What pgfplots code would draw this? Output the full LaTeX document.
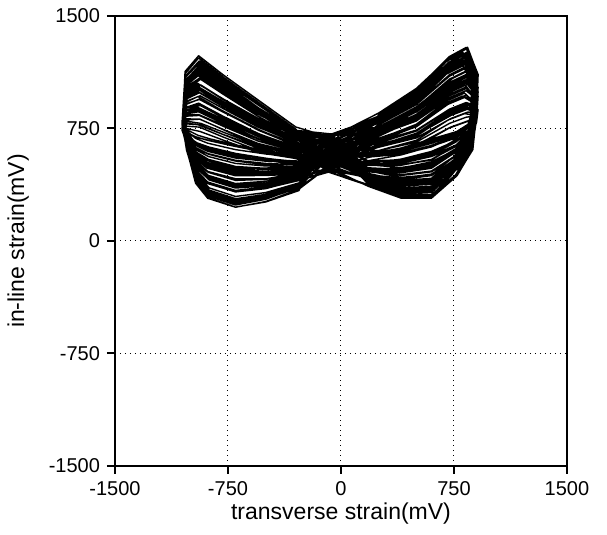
\documentclass[border=0pt]{standalone}
\usepackage{fontspec}
\setmainfont{Liberation Sans}
\usepackage{pgfplots}
\pgfplotsset{compat=1.18}
\begin{document}
\begin{tikzpicture}
\begin{axis}[
  scale only axis, width=226pt, height=225pt,
  at={(0,0)}, anchor=south west,
  xmin=-1500, xmax=1500, ymin=-1500, ymax=1500,
  xtick={-1500,-750,0,750,1500}, ytick={-1500,-750,0,750,1500},
  tick pos=left, tick align=outside, major tick length=4pt,
  axis line style={line width=1.2pt},
  every tick/.style={black, line width=1pt},
  grid=major, major grid style={black, line width=0.5pt, dotted},
  scaled ticks=false,
  /pgf/number format/assume math mode=true,
  /pgf/number format/set thousands separator={},
  ticklabel style={font=\fontsize{10}{12}\selectfont},
  xlabel={transverse strain(mV)}, ylabel={in-line strain(mV)},
  label style={font=\fontsize{11.5}{13}\selectfont},
  xlabel style={at={(axis description cs:0.5,-0.1178)}, anchor=base},
  ylabel style={at={(axis description cs:-0.2013,0.5)}, anchor=base},
]
\addplot[black, line width=0.7pt, line join=round, mark=none] coordinates {
(-60,470) (250,840) (500,1010) (720,1230) (830,1290) (890,1120) (880,850) (855,600) (760,440) (600,290) (400,290) (180,370) (-60,470) (-300,741) (-550,914) (-780,1079) (-940,1201) (-1030,1102) (-1045,797) (-1020,625) (-960,406) (-880,310) (-700,251) (-500,285) (-280,361)
(-100,700) (250,825) (500,983) (730,1193) (840,1251) (900,1100) (890,855) (865,628) (770,479) (600,339) (400,333) (180,401) (-100,700) (-300,760) (-550,940) (-785,1110) (-945,1235) (-1035,1130) (-1050,810) (-1025,630) (-965,400) (-885,300) (-700,240) (-500,278) (-280,360)
(-30,520) (250,780) (500,926) (710,1126) (820,1182) (880,1050) (870,830) (845,626) (750,488) (600,358) (400,346) (180,401) (-30,520) (-300,712) (-550,871) (-775,1027) (-935,1142) (-1025,1056) (-1040,781) (-1015,625) (-955,427) (-875,339) (-700,282) (-500,308) (-280,372)
(-120,690) (250,828) (500,992) (740,1207) (850,1266) (910,1105) (900,848) (875,609) (780,455) (600,310) (400,307) (180,380) (-120,690) (-300,703) (-550,848) (-790,995) (-950,1104) (-1040,1030) (-1055,785) (-1030,645) (-970,468) (-890,388) (-700,333) (-500,351) (-280,403)
(-80,460) (250,775) (500,909) (720,1099) (830,1153) (890,1040) (880,845) (855,664) (760,537) (600,417) (400,399) (180,442) (-80,460) (-300,741) (-550,907) (-780,1068) (-940,1187) (-1030,1094) (-1045,804) (-1020,640) (-960,431) (-880,339) (-700,281) (-500,311) (-280,381)
(-50,650) (250,788) (500,940) (700,1145) (810,1202) (870,1060) (860,828) (835,612) (740,469) (600,334) (400,325) (180,386) (-50,650) (-300,669) (-550,800) (-770,938) (-930,1040) (-1020,979) (-1035,764) (-1010,640) (-950,484) (-870,412) (-700,359) (-500,369) (-280,409)
(-130,600) (250,755) (500,877) (730,1057) (840,1109) (900,1015) (890,845) (865,687) (770,571) (600,461) (400,437) (180,467) (-130,600) (-300,727) (-550,879) (-785,1031) (-945,1143) (-1035,1063) (-1050,803) (-1025,655) (-965,467) (-885,383) (-700,327) (-500,349) (-280,407)
(-20,480) (250,773) (500,913) (720,1108) (830,1163) (890,1040) (880,833) (855,640) (760,508) (600,383) (400,368) (180,416) (-20,480) (-300,736) (-550,909) (-780,1074) (-940,1196) (-1030,1097) (-1045,792) (-1020,620) (-960,401) (-880,305) (-700,246) (-500,280) (-280,356)
(-90,710) (250,715) (500,825) (710,995) (820,1045) (880,970) (870,825) (845,690) (750,585) (600,485) (400,455) (180,473) (-90,710) (-300,693) (-550,831) (-775,974) (-935,1080) (-1025,1012) (-1040,782) (-1015,650) (-955,483) (-875,407) (-700,353) (-500,368) (-280,413)
(-60,500) (250,835) (500,993) (740,1203) (850,1261) (910,1110) (900,865) (875,638) (780,489) (600,349) (400,343) (180,411) (-60,500) (-300,685) (-550,802) (-790,931) (-950,1027) (-1040,978) (-1055,793) (-1030,685) (-970,550) (-890,486) (-700,435) (-500,437) (-280,465)
(-110,540) (250,733) (500,861) (720,1046) (830,1099) (890,995) (880,813) (855,643) (760,522) (600,407) (400,386) (180,422) (-110,540) (-300,702) (-550,861) (-780,1017) (-940,1132) (-1030,1046) (-1045,771) (-1020,615) (-960,417) (-880,329) (-700,272) (-500,298) (-280,362)
(-40,670) (250,800) (500,946) (710,1146) (820,1202) (880,1070) (870,850) (845,646) (750,508) (600,378) (400,366) (180,421) (-40,670) (-300,684) (-550,808) (-775,942) (-935,1041) (-1025,986) (-1040,786) (-1015,670) (-955,524) (-875,456) (-700,404) (-500,411) (-280,444)
(-70,630) (250,728) (500,844) (730,1019) (840,1070) (900,985) (890,828) (865,681) (770,571) (600,466) (400,439) (180,462) (-70,630) (-300,703) (-550,848) (-785,995) (-945,1104) (-1035,1030) (-1050,785) (-1025,645) (-965,468) (-885,388) (-700,333) (-500,351) (-280,403)
(-100,465) (250,818) (500,982) (700,1197) (810,1256) (870,1095) (860,838) (835,599) (740,445) (600,300) (400,297) (180,370) (-100,465) (-300,721) (-550,887) (-770,1048) (-930,1167) (-1020,1074) (-1035,784) (-1010,620) (-950,411) (-870,319) (-700,261) (-500,291) (-280,361)
(-60,580) (250,708) (500,812) (720,977) (830,1026) (890,960) (880,828) (855,704) (760,605) (600,510) (400,477) (180,488) (-60,580) (-300,660) (-550,770) (-780,895) (-940,988) (-1030,945) (-1045,775) (-1020,675) (-960,550) (-880,490) (-700,440) (-500,439) (-280,460)
(-140,690) (250,760) (500,894) (740,1084) (850,1138) (910,1025) (900,830) (875,649) (780,522) (600,402) (400,384) (180,427) (-140,690) (-300,679) (-550,810) (-790,948) (-950,1050) (-1040,989) (-1055,774) (-1030,650) (-970,494) (-890,422) (-700,369) (-500,379) (-280,419)
(-10,510) (250,818) (500,970) (720,1175) (830,1232) (890,1090) (880,858) (855,642) (760,499) (600,364) (400,355) (180,416) (-10,510) (-300,727) (-550,879) (-780,1031) (-940,1143) (-1030,1063) (-1045,803) (-1020,655) (-960,467) (-880,383) (-700,327) (-500,349) (-280,407)
(-80,550) (250,680) (500,778) (710,938) (820,986) (880,930) (870,810) (845,698) (750,604) (600,514) (400,478) (180,483) (-80,550) (-300,636) (-550,739) (-775,859) (-935,948) (-1025,912) (-1040,757) (-1015,665) (-955,551) (-875,495) (-700,446) (-500,441) (-280,456)
(-120,705) (250,760) (500,882) (730,1062) (840,1114) (900,1020) (890,850) (865,692) (770,576) (600,466) (400,442) (180,472) (-120,705) (-300,685) (-550,802) (-785,931) (-945,1027) (-1035,978) (-1050,793) (-1025,685) (-965,550) (-885,486) (-700,435) (-500,437) (-280,465)
(-50,475) (250,835) (500,1005) (730,1225) (840,1285) (900,1115) (890,845) (865,595) (770,435) (600,285) (400,285) (180,365) (-50,475) (-300,745) (-550,925) (-785,1095) (-945,1220) (-1035,1115) (-1050,795) (-1025,615) (-965,385) (-885,285) (-700,225) (-500,263) (-280,345)
(-90,490) (250,778) (500,918) (700,1113) (810,1168) (870,1045) (860,838) (835,645) (740,513) (600,388) (400,373) (180,421) (-90,490) (-300,693) (-550,831) (-770,974) (-930,1080) (-1020,1012) (-1035,782) (-1010,650) (-950,483) (-870,407) (-700,353) (-500,368) (-280,413)
(-30,660) (250,725) (500,835) (720,1005) (830,1055) (890,980) (880,835) (855,700) (760,595) (600,495) (400,465) (180,483) (-30,660) (-300,646) (-550,742) (-780,858) (-940,944) (-1030,914) (-1045,774) (-1020,690) (-960,586) (-880,534) (-700,486) (-500,477) (-280,486)
(-110,560) (250,738) (500,866) (730,1051) (840,1104) (900,1000) (890,818) (865,648) (770,527) (600,412) (400,391) (180,427) (-110,560) (-300,659) (-550,783) (-785,917) (-945,1016) (-1035,961) (-1050,761) (-1025,645) (-965,499) (-885,431) (-700,379) (-500,386) (-280,419)
(-70,600) (250,678) (500,770) (720,925) (830,972) (890,925) (880,818) (855,717) (760,629) (600,544) (400,505) (180,503) (-70,600) (-300,627) (-550,716) (-780,827) (-940,910) (-1030,886) (-1045,761) (-1020,685) (-960,592) (-880,544) (-700,497) (-500,484) (-280,487)
(-60,700) (250,815) (500,961) (710,1161) (820,1217) (880,1085) (870,865) (845,661) (750,523) (600,393) (400,381) (180,436) (-60,700) (-300,728) (-550,873) (-775,1020) (-935,1129) (-1025,1055) (-1040,810) (-1015,670) (-955,493) (-875,413) (-700,358) (-500,376) (-280,428)
(-100,470) (250,708) (500,824) (740,999) (850,1050) (910,965) (900,808) (875,661) (780,551) (600,446) (400,419) (180,442) (-100,470) (-300,635) (-550,745) (-790,870) (-950,963) (-1040,920) (-1055,750) (-1030,650) (-970,525) (-890,465) (-700,415) (-500,414) (-280,435)
(-40,620) (250,820) (500,978) (710,1188) (820,1246) (880,1095) (870,850) (845,623) (750,474) (600,334) (400,328) (180,396) (-40,620) (-300,727) (-550,886) (-775,1042) (-935,1157) (-1025,1071) (-1040,796) (-1015,640) (-955,442) (-875,354) (-700,297) (-500,323) (-280,387)
(-80,590) (250,703) (500,807) (720,972) (830,1021) (890,955) (880,823) (855,699) (760,600) (600,505) (400,472) (180,483) (-80,590) (-300,617) (-550,699) (-780,806) (-940,886) (-1030,868) (-1045,758) (-1020,690) (-960,607) (-880,563) (-700,517) (-500,500) (-280,497)
(-90,530) (250,675) (500,761) (710,911) (820,957) (880,920) (870,825) (845,736) (750,653) (600,573) (400,531) (180,524) (-90,530) (-300,656) (-550,759) (-775,879) (-935,968) (-1025,932) (-1040,777) (-1015,685) (-955,571) (-875,515) (-700,466) (-500,461) (-280,476)
(-60,680) (250,755) (500,889) (720,1079) (830,1133) (890,1020) (880,825) (855,644) (760,517) (600,397) (400,379) (180,422) (-60,680) (-300,721) (-550,887) (-780,1048) (-940,1167) (-1030,1074) (-1045,784) (-1020,620) (-960,411) (-880,319) (-700,261) (-500,291) (-280,361)
(-70,560) (250,653) (500,733) (720,878) (830,923) (890,895) (880,813) (855,735) (760,658) (600,583) (400,538) (180,524) (-70,560) (-300,598) (-550,666) (-780,764) (-940,837) (-1030,832) (-1045,752) (-1020,700) (-960,638) (-880,602) (-700,558) (-500,534) (-280,518)
(-50,640) (250,643) (500,711) (730,846) (840,889) (900,880) (890,823) (865,768) (770,702) (600,637) (400,586) (180,559) (-50,640) (-300,623) (-550,698) (-785,800) (-945,876) (-1035,865) (-1050,770) (-1025,710) (-965,638) (-885,598) (-700,553) (-500,532) (-280,523)
(-90,520) (250,625) (500,699) (710,839) (820,883) (880,865) (870,795) (845,729) (750,657) (600,587) (400,539) (180,519) (-90,520) (-300,564) (-550,618) (-775,707) (-935,774) (-1025,781) (-1040,731) (-1015,695) (-955,654) (-875,626) (-700,584) (-500,552) (-280,524)
(-60,610) (250,603) (500,659) (720,784) (830,825) (890,835) (880,803) (855,771) (760,716) (600,661) (400,604) (180,565) (-60,610) (-300,589) (-550,650) (-780,743) (-940,813) (-1030,814) (-1045,749) (-1020,705) (-960,654) (-880,622) (-700,579) (-500,550) (-280,529)
(-80,570) (250,625) (500,687) (730,817) (840,859) (900,860) (890,815) (865,772) (770,711) (600,651) (400,597) (180,565) (-80,570) (-300,580) (-550,627) (-785,711) (-945,774) (-1035,788) (-1050,753) (-1025,725) (-965,695) (-885,671) (-700,630) (-500,593) (-280,560)
(-70,590) (250,580) (500,630) (710,750) (820,790) (880,810) (870,790) (845,770) (750,720) (600,670) (400,610) (180,565) (-70,590) (-300,550) (-550,590) (-775,670) (-935,730) (-1025,750) (-1040,730) (-1015,710) (-955,690) (-875,670) (-700,630) (-500,590) (-280,550)
(-100,500) (250,633) (500,713) (740,858) (850,903) (910,875) (900,793) (875,715) (780,638) (600,563) (400,518) (180,504) (-100,500) (-300,597) (-550,679) (-790,786) (-950,866) (-1040,848) (-1055,738) (-1030,670) (-970,587) (-890,543) (-700,497) (-500,480) (-280,477)
(-40,660) (250,665) (500,739) (720,879) (830,923) (890,905) (880,835) (855,769) (760,697) (600,627) (400,579) (180,559) (-40,660) (-300,633) (-550,708) (-780,810) (-940,886) (-1030,875) (-1045,780) (-1020,720) (-960,648) (-880,608) (-700,563) (-500,542) (-280,533)
(-80,540) (250,603) (500,671) (710,806) (820,849) (880,840) (870,783) (845,728) (750,662) (600,597) (400,546) (180,519) (-80,540) (-300,573) (-550,641) (-775,739) (-935,812) (-1025,807) (-1040,727) (-1015,675) (-955,613) (-875,577) (-700,533) (-500,509) (-280,493)
(-60,680) (250,645) (500,707) (730,837) (840,879) (900,880) (890,835) (865,792) (770,731) (600,671) (400,617) (180,585) (-60,680) (-300,619) (-550,680) (-785,773) (-945,843) (-1035,844) (-1050,779) (-1025,735) (-965,684) (-885,652) (-700,609) (-500,580) (-280,559)
(-90,490) (250,573) (500,629) (720,754) (830,795) (890,805) (880,773) (855,741) (760,686) (600,631) (400,574) (180,535) (-90,490) (-300,549) (-550,603) (-780,692) (-940,759) (-1030,766) (-1045,716) (-1020,680) (-960,639) (-880,611) (-700,569) (-500,537) (-280,509)
(-50,630) (250,685) (500,771) (700,921) (810,967) (870,930) (860,835) (835,746) (740,663) (600,583) (400,541) (180,534) (-50,630) (-300,590) (-550,637) (-770,721) (-930,784) (-1020,798) (-1035,763) (-1010,735) (-950,705) (-870,681) (-700,640) (-500,603) (-280,570)
(-70,580) (250,590) (500,640) (730,760) (840,800) (900,820) (890,800) (865,780) (770,730) (600,680) (400,620) (180,575) (-70,580) (-300,608) (-550,683) (-785,785) (-945,861) (-1035,850) (-1050,755) (-1025,695) (-965,623) (-885,583) (-700,538) (-500,517) (-280,508)
(-80,700) (250,833) (500,985) (720,1190) (830,1247) (890,1105) (880,873) (855,657) (760,514) (600,379) (400,370) (180,431) (-80,700) (-300,723) (-550,861) (-780,1004) (-940,1110) (-1030,1042) (-1045,812) (-1020,680) (-960,513) (-880,437) (-700,383) (-500,398) (-280,443)
(-60,470) (250,710) (500,832) (730,1012) (840,1064) (900,970) (890,800) (865,642) (770,526) (600,416) (400,392) (180,422) (-60,470) (-300,692) (-550,851) (-785,1007) (-945,1122) (-1035,1036) (-1050,761) (-1025,605) (-965,407) (-885,319) (-700,262) (-500,288) (-280,352)
(-100,650) (250,808) (500,948) (710,1143) (820,1198) (880,1075) (870,868) (845,675) (750,543) (600,418) (400,403) (180,451) (-100,650) (-300,685) (-550,795) (-775,920) (-935,1013) (-1025,970) (-1040,800) (-1015,700) (-955,575) (-875,515) (-700,465) (-500,464) (-280,485)
(-50,510) (250,665) (500,763) (720,923) (830,971) (890,915) (880,795) (855,683) (760,589) (600,499) (400,463) (180,468) (-50,510) (-300,649) (-550,773) (-780,907) (-940,1006) (-1030,951) (-1045,751) (-1020,635) (-960,489) (-880,421) (-700,369) (-500,376) (-280,409)
(-70,690) (250,853) (500,1017) (730,1232) (840,1291) (900,1130) (890,873) (865,634) (770,480) (600,335) (400,332) (180,405) (-70,690) (-300,737) (-550,889) (-785,1041) (-945,1153) (-1035,1073) (-1050,813) (-1025,665) (-965,477) (-885,393) (-700,337) (-500,359) (-280,417)
(-110,480) (250,698) (500,814) (710,989) (820,1040) (880,955) (870,798) (845,651) (750,541) (600,436) (400,409) (180,432) (-110,480) (-300,606) (-550,702) (-775,818) (-935,904) (-1025,874) (-1040,734) (-1015,650) (-955,546) (-875,494) (-700,446) (-500,437) (-280,446)
(-40,670) (250,708) (500,800) (720,955) (830,1002) (890,955) (880,848) (855,747) (760,659) (600,574) (400,535) (180,533) (-40,670) (-300,714) (-550,845) (-780,983) (-940,1085) (-1030,1024) (-1045,809) (-1020,685) (-960,529) (-880,457) (-700,404) (-500,414) (-280,454)
(-90,530) (250,733) (500,861) (740,1046) (850,1099) (910,995) (900,813) (875,643) (780,522) (600,407) (400,386) (180,422) (-90,530) (-300,607) (-550,696) (-790,807) (-950,890) (-1040,866) (-1055,741) (-1030,665) (-970,572) (-890,524) (-700,477) (-500,464) (-280,467)
(-60,700) (250,738) (500,842) (720,1007) (830,1056) (890,990) (880,858) (855,734) (760,635) (600,540) (400,507) (180,518) (-60,700) (-300,700) (-550,817) (-780,946) (-940,1042) (-1030,993) (-1045,808) (-1020,700) (-960,565) (-880,501) (-700,450) (-500,452) (-280,480)
(-80,460) (250,778) (500,930) (710,1135) (820,1192) (880,1050) (870,818) (845,602) (750,459) (600,324) (400,315) (180,376) (-80,460) (-300,716) (-550,889) (-775,1054) (-935,1176) (-1025,1077) (-1040,772) (-1015,600) (-955,381) (-875,285) (-700,226) (-500,260) (-280,336)
(-120,640) (250,750) (500,860) (730,1030) (840,1080) (900,1005) (890,860) (865,725) (770,620) (600,520) (400,490) (180,508) (-120,640) (-300,681) (-550,784) (-785,904) (-945,993) (-1035,957) (-1050,802) (-1025,710) (-965,596) (-885,540) (-700,491) (-500,486) (-280,501)
(-60,500) (250,630) (500,716) (720,866) (830,912) (890,875) (880,780) (855,691) (760,608) (600,528) (400,486) (180,479) (-60,500) (-300,592) (-550,681) (-780,792) (-940,875) (-1030,851) (-1045,726) (-1020,650) (-960,557) (-880,509) (-700,462) (-500,449) (-280,452)
(-30,710) (250,800) (500,934) (710,1124) (820,1178) (880,1065) (870,870) (845,689) (750,562) (600,442) (400,424) (180,467) (-30,710) (-300,738) (-550,883) (-775,1030) (-935,1139) (-1025,1065) (-1040,820) (-1015,680) (-955,503) (-875,423) (-700,368) (-500,386) (-280,438)
(-70,620) (250,710) (500,808) (720,968) (830,1016) (890,960) (880,840) (855,728) (760,634) (600,544) (400,508) (180,513) (-70,620) (-300,628) (-550,703) (-780,805) (-940,881) (-1030,870) (-1045,775) (-1020,715) (-960,643) (-880,603) (-700,558) (-500,537) (-280,528)
(-90,550) (250,638) (500,718) (730,863) (840,908) (900,880) (890,798) (865,720) (770,643) (600,568) (400,523) (180,509) (-90,550) (-300,621) (-550,717) (-785,833) (-945,919) (-1035,889) (-1050,749) (-1025,665) (-965,561) (-885,509) (-700,461) (-500,452) (-280,461)
(-60,560)
};
\end{axis}
\pgfresetboundingbox
\path (-57.5pt,-34.5pt) rectangle (246pt,233pt);
\end{tikzpicture}
\end{document}
